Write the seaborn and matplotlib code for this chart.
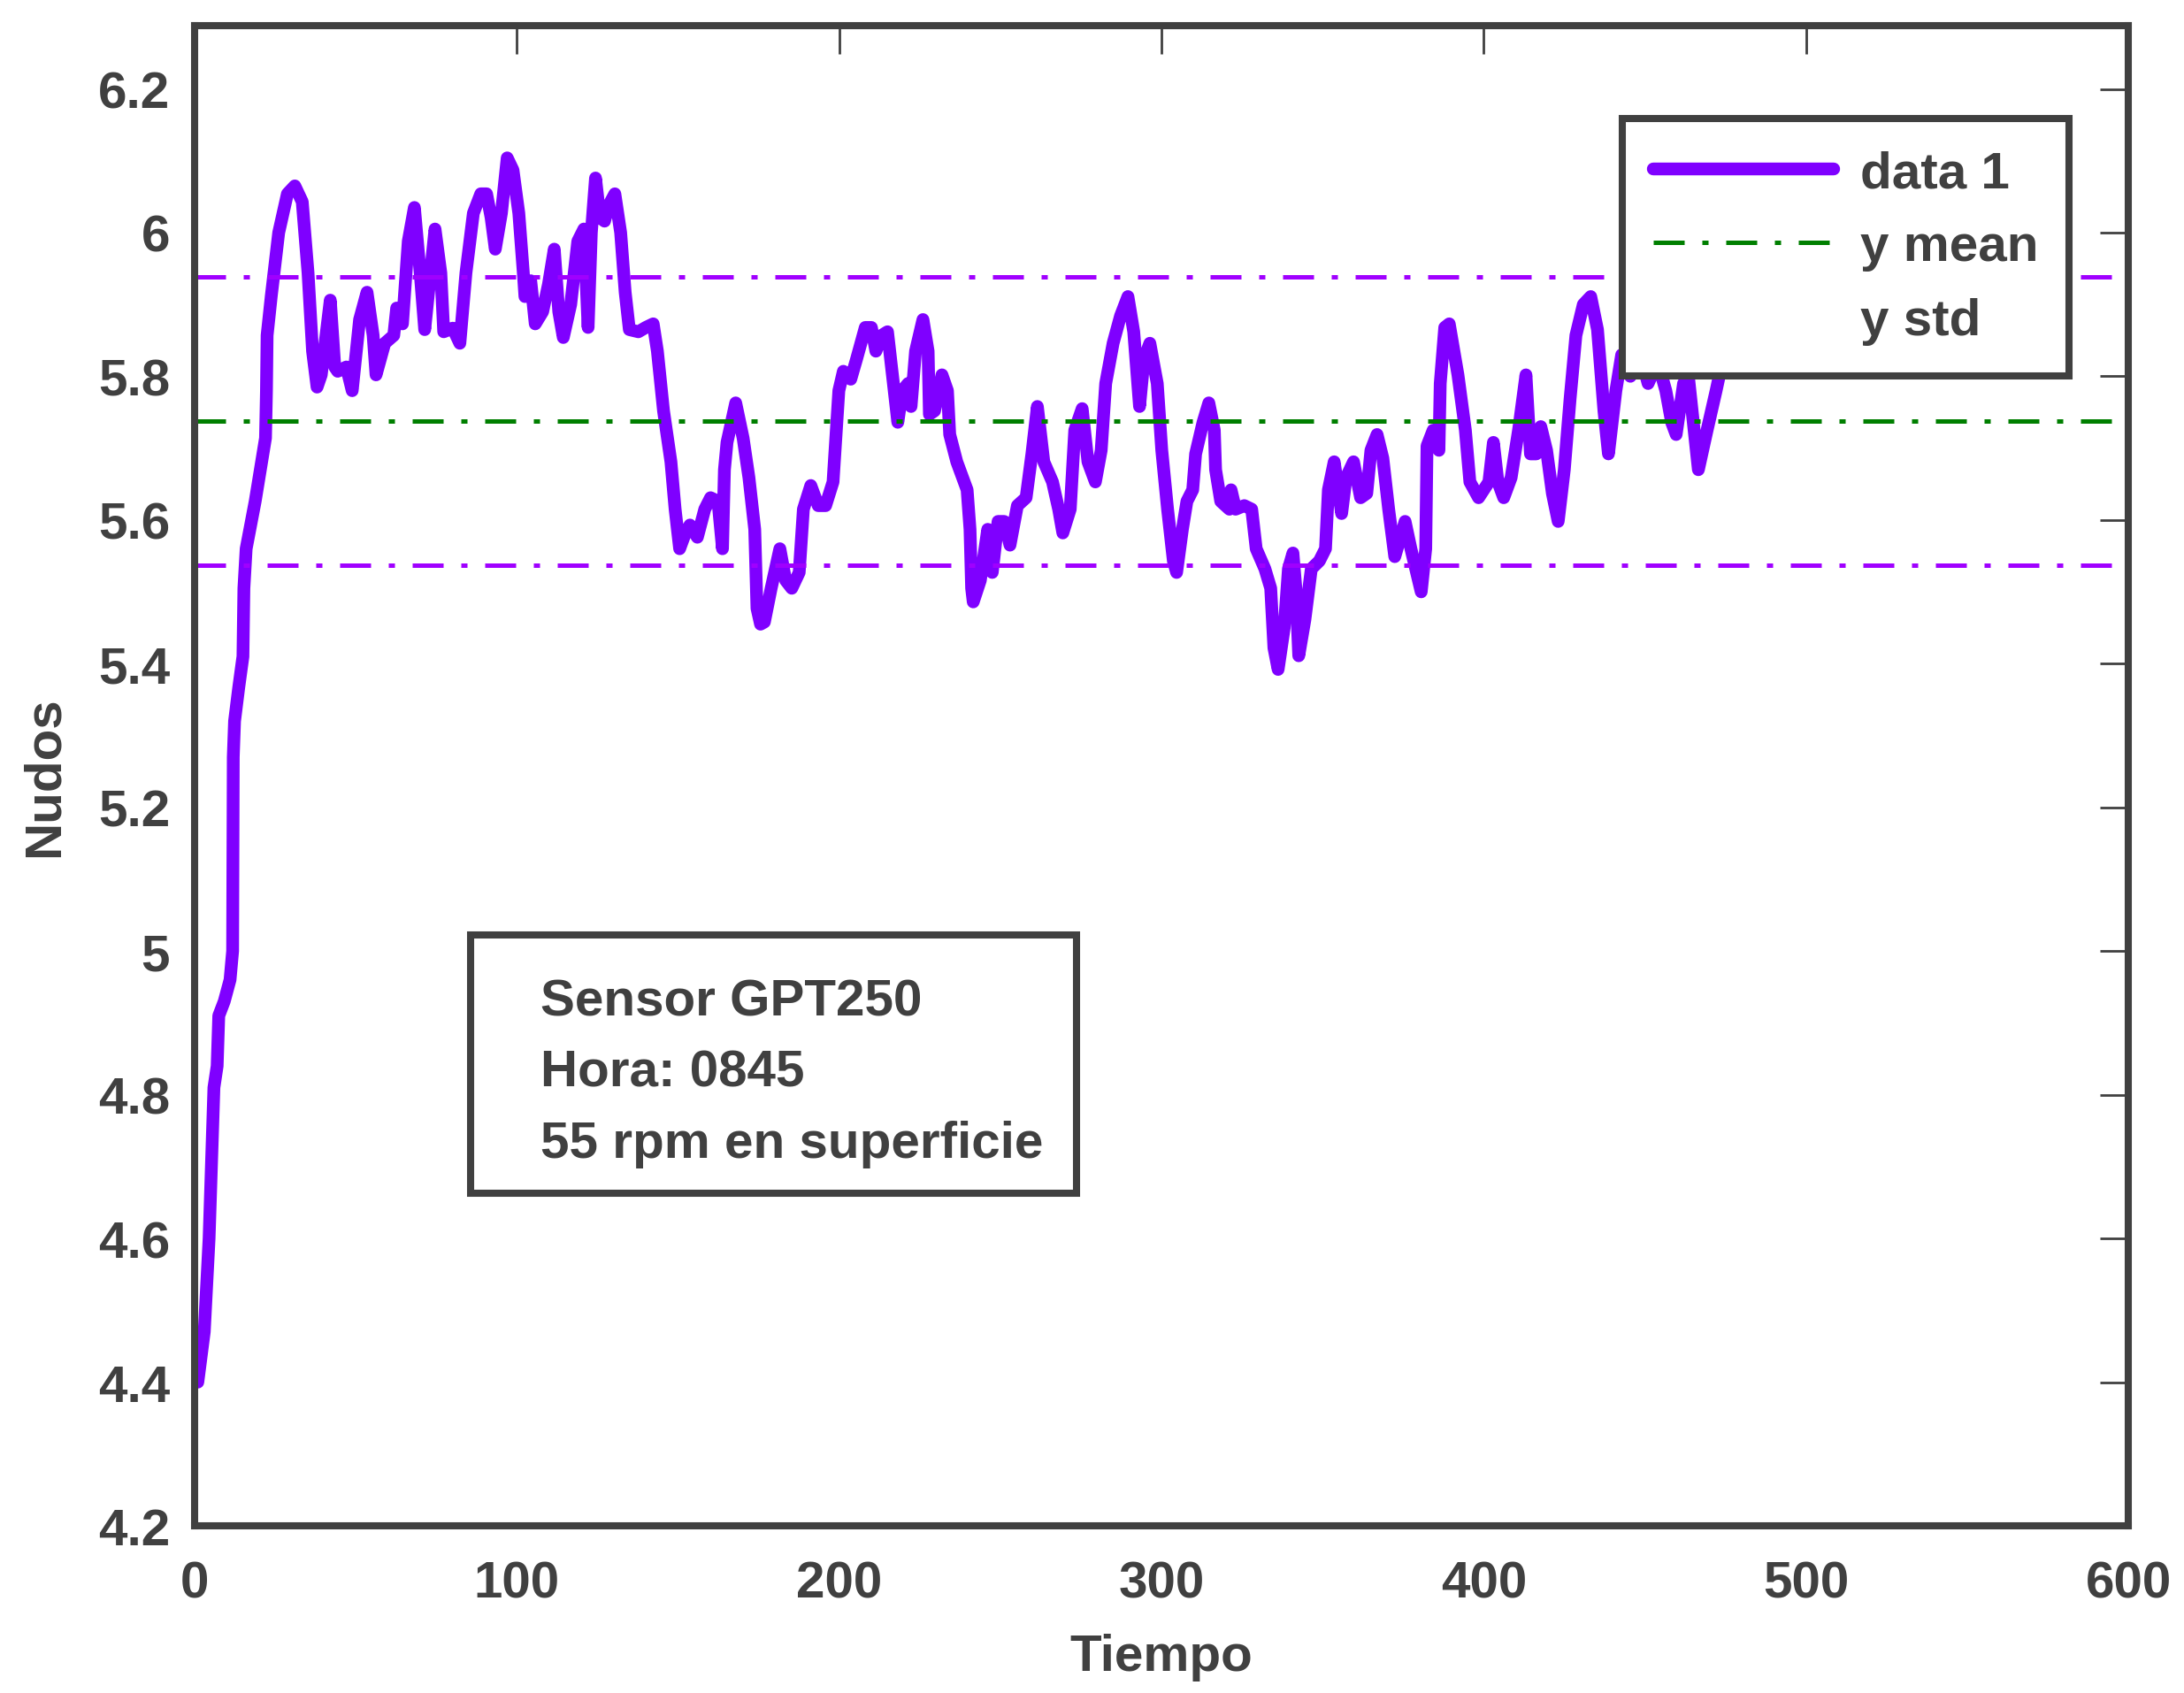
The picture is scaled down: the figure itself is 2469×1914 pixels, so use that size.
import seaborn as sns
import matplotlib.pyplot as plt
from matplotlib.lines import Line2D
from matplotlib.patches import Rectangle

# values
tiempo = [1, 3, 4.5, 5.5, 6, 7, 7.5, 9.2, 11.0, 11.8, 11.9, 12.0, 12.4, 13.7, 15.0, 15.3, 16.0, 18.8,
          22.0, 22.3, 22.5, 23.8, 26.1, 28.8, 31.1, 33.4, 35.2, 36.6, 38.0, 39.3, 42.1, 43.5, 44.4,
          47.1, 48.9, 51.2, 53.5, 55.4, 56.3, 59.0, 61.8, 62.7, 64.5, 66.3, 68.2, 70.0, 71.4, 74.6,
          76.4, 77.3, 80.1, 82.3, 84.2, 86.5, 88.8, 90.6, 92.0, 93.3, 95.2, 97.0, 98.8, 100.6, 102.0,
          102.5, 104.3, 105.7, 108.0, 109.8, 111.6, 113.0, 114.4, 116.7, 118.9, 120.8, 122.1, 123.1,
          124.4, 125.8, 127.2, 128.5, 130.4, 132.2, 133.6, 134.9, 137.7, 140.0, 142.3, 143.6, 145.5,
          147.8, 149.1, 150.5, 152.3, 153.7, 156.0, 158.3, 160.1, 162.4, 163.8, 164.4, 165.2, 167.9,
          170.2, 172.0, 173.8, 174.5, 175.6, 176.8, 178.9, 181.6, 183.4, 185.3, 187.6, 188.9, 191.2,
          193.5, 195.8, 198.1, 199.9, 201.3, 203.6, 205.4, 208.1, 210.0, 211.4, 213.2, 215.0, 216.4,
          218.2, 219.6, 221.4, 222.3, 223.7, 226.0, 227.6, 228.0, 229.6, 231.9, 233.6, 234.3, 236.5,
          239.7, 240.6, 241.1, 241.6, 243.8, 246.1, 247.5, 249.3, 251.2, 253.0, 255.3, 258.0, 259.8,
          261.5, 263.5, 266.2, 268.1, 269.4, 271.7, 273.1, 275.4, 277.2, 279.5, 281.3, 282.7, 285.0,
          287.3, 289.6, 291.4, 293.2, 294.6, 296.4, 298.7, 300.1, 301.9, 303.7, 304.7, 306.5, 307.9,
          309.7, 310.6, 312.9, 314.7, 316.4, 316.8, 318.4, 321.1, 321.6, 323.0, 325.7, 328.0, 329.4,
          332.1, 333.9, 334.9, 336.2, 338.1, 339.4, 340.8, 341.7, 342.6, 344.5, 346.5, 349.0, 350.9,
          351.8, 353.6, 355.9, 357.3, 359.6, 361.8, 363.7, 365.0, 366.9, 368.7, 370.5, 372.4, 375.6,
          377.4, 380.6, 382.0, 382.4, 384.3, 386.1, 386.5, 387.9, 389.3, 392.0, 394.3, 395.7, 398.4,
          401.6, 403.0, 404.4, 406.2, 408.5, 410.8, 413.1, 414.5, 416.3, 417.7, 419.5, 421.3, 423.1,
          425.0, 426.8, 428.6, 430.9, 433.2, 435.3, 437.3, 438.7, 441.0, 442.8, 445.5, 448.0, 451.0,
          454.0, 456.5, 458.3, 459.7, 462.0, 463.5, 466.6, 469.3, 472.1, 474.5]
nudos = [4.40, 4.47, 4.60, 4.74, 4.81, 4.84, 4.91, 4.93, 4.96, 5.00, 5.14, 5.27, 5.32, 5.367, 5.41,
         5.505, 5.56, 5.626, 5.714, 5.78, 5.857, 5.912, 6.0, 6.054, 6.065, 6.043, 5.944, 5.835, 5.785,
         5.802, 5.906, 5.813, 5.807, 5.813, 5.78, 5.879, 5.917, 5.857, 5.802, 5.846, 5.857, 5.895,
         5.873, 5.988, 6.035, 5.944, 5.865, 6.005, 5.944, 5.862, 5.867, 5.846, 5.944, 6.027, 6.054,
         6.054, 6.021, 5.977, 6.027, 6.104, 6.087, 6.027, 5.944, 5.911, 5.933, 5.873, 5.89, 5.928,
         5.977, 5.89, 5.854, 5.9, 5.988, 6.005, 5.868, 6.0, 6.076, 6.021, 6.016, 6.038, 6.054, 6.0,
         5.917, 5.865, 5.862, 5.868, 5.873, 5.835, 5.752, 5.681, 5.615, 5.56, 5.582, 5.593, 5.576,
         5.615, 5.631, 5.626, 5.56, 5.67, 5.708, 5.763, 5.714, 5.659, 5.587, 5.477, 5.455, 5.458,
         5.505, 5.56, 5.516, 5.505, 5.527, 5.615, 5.648, 5.62, 5.62, 5.653, 5.78, 5.807, 5.796, 5.824,
         5.868, 5.868, 5.835, 5.857, 5.862, 5.807, 5.736, 5.78, 5.79, 5.758, 5.835, 5.879, 5.835,
         5.747, 5.752, 5.802, 5.78, 5.719, 5.681, 5.642, 5.587, 5.505, 5.486, 5.516, 5.587, 5.527,
         5.598, 5.598, 5.565, 5.62, 5.631, 5.692, 5.758, 5.681, 5.653, 5.615, 5.582, 5.615, 5.725,
         5.755, 5.681, 5.653, 5.697, 5.79, 5.846, 5.884, 5.911, 5.862, 5.758, 5.824, 5.846, 5.79,
         5.697, 5.615, 5.543, 5.527, 5.587, 5.626, 5.642, 5.692, 5.736, 5.763, 5.725, 5.67, 5.626,
         5.615, 5.642, 5.615, 5.62, 5.615, 5.56, 5.532, 5.505, 5.422, 5.392, 5.45, 5.532, 5.554,
         5.505, 5.411, 5.461, 5.532, 5.543, 5.56, 5.642, 5.681, 5.609, 5.659, 5.681, 5.631, 5.637,
         5.697, 5.719, 5.686, 5.615, 5.549, 5.598, 5.56, 5.5, 5.56, 5.703, 5.725, 5.697, 5.79, 5.868,
         5.873, 5.802, 5.725, 5.653, 5.631, 5.653, 5.708, 5.653, 5.631, 5.659, 5.725, 5.802, 5.692,
         5.692, 5.73, 5.697, 5.637, 5.598, 5.67, 5.769, 5.857, 5.9, 5.911, 5.865, 5.752, 5.692, 5.78,
         5.83, 5.80, 5.84, 5.79, 5.82, 5.78, 5.736, 5.719, 5.79, 5.80, 5.67, 5.725, 5.78, 5.83]
y_mean = 5.738
y_std = 0.201
info_lines = ["Sensor GPT250", "Hora: 0845", "55 rpm en superficie"]

gray = "#404040"
sns.set_style("white")
plt.rcParams["font.family"] = ["Liberation Sans", "DejaVu Sans"]
fs = 21

fig = plt.figure(figsize=(12.345, 9.575), dpi=200)
ax = fig.add_axes([0.0891, 0.0987, 0.8854, 0.8856])

sns.lineplot(x=tiempo, y=nudos, ax=ax, color="#7F00FF", lw=5.2, estimator=None, sort=False,
             solid_joinstyle="round", solid_capstyle="round", legend=False)
dd = (0, (7, 4, 1.4, 4))
ax.axhline(y_mean, color="#007F00", lw=1.8, ls=dd)
ax.axhline(y_mean + y_std, color="#A000FF", lw=1.8, ls=dd)
ax.axhline(y_mean - y_std, color="#A000FF", lw=1.8, ls=dd)

ax.set_xlim(0, 600)
ax.set_ylim(4.2, 6.288)
ax.set_xticks(range(0, 601, 100))
ax.set_yticks([4.2 + 0.2 * i for i in range(11)])
ax.set_yticklabels(["4.2", "4.4", "4.6", "4.8", "5", "5.2", "5.4", "5.6", "5.8", "6", "6.2"])
ax.tick_params(direction="in", length=11.5, width=1.0, color=gray, labelcolor=gray,
               labelsize=fs, top=True, right=True)
ax.tick_params(axis="x", pad=14)
ax.tick_params(axis="y", pad=10)
for lab in ax.get_xticklabels() + ax.get_yticklabels():
    lab.set_fontweight("bold")
for s in ax.spines.values():
    s.set_linewidth(2.9)
    s.set_color(gray)

ax.set_xlabel("Tiempo", fontsize=fs, color=gray, fontweight="bold", labelpad=10)
ax.set_ylabel("Nudos", fontsize=fs, color=gray, fontweight="bold", labelpad=12)

handles = [Line2D([], [], color="#7F00FF", lw=5.2, solid_capstyle="round"),
           Line2D([], [], color="#007F00", lw=1.8, ls=dd),
           Line2D([], [], ls="none")]
leg = ax.legend(handles, ["data 1", "y mean", "y std"], loc="upper right",
                bbox_to_anchor=(0.9694, 0.938), frameon=True, fancybox=False,
                prop={"size": fs, "weight": "bold"},
                handlelength=3.5, handleheight=0.7, handletextpad=0.5, labelspacing=0.5,
                borderpad=0.6, borderaxespad=0)
leg.get_frame().set_edgecolor(gray)
leg.get_frame().set_linewidth(2.9)
leg.get_frame().set_alpha(1)
for t in leg.get_texts():
    t.set_color(gray)

# annotation box
ax.add_patch(Rectangle((0.1427, 0.2217), 0.3134, 0.1722, transform=ax.transAxes,
                       fc="white", ec=gray, lw=2.9, zorder=5))
ax.text(0.1789, 0.302, "\n".join(info_lines), transform=ax.transAxes, fontsize=fs,
        fontweight="bold", color=gray, ha="left", va="center", linespacing=1.63, zorder=6)

fig.savefig("out.png", dpi=200)
